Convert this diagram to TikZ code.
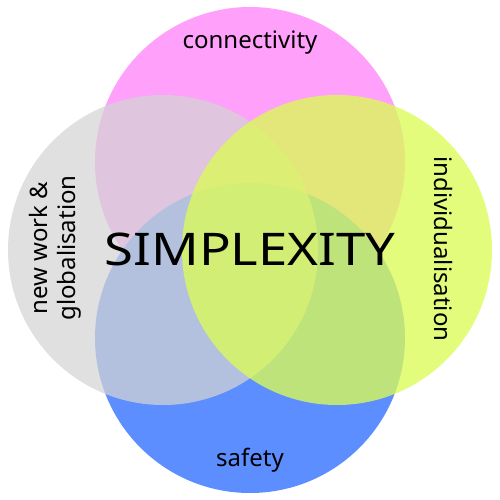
\documentclass[tikz,border=0pt]{standalone}
\usepackage{fontspec}
\setmainfont{Noto Sans}
\definecolor{cpink}{RGB}{255,160,250}
\definecolor{cgrey}{RGB}{212,212,212}
\definecolor{cyel}{RGB}{220,251,87}
\definecolor{cblue}{RGB}{92,142,255}
\tikzset{
  lab/.style={inner sep=0pt, text=black, font=\fontsize{24}{28}\selectfont},
  big/.style={inner sep=0pt, text=black, font=\fontsize{45}{54}\selectfont},
}
\begin{document}
\begin{tikzpicture}[x=1pt,y=-1pt]
\useasboundingbox (0,0) rectangle (500,500);
\coordinate (pc) at (250,162);
\coordinate (bc) at (250,338);
\coordinate (gc) at (163,250);
\coordinate (yc) at (337,250);
\fill[cpink] (pc) circle[radius=155pt];
\fill[cblue] (bc) circle[radius=155pt];
\fill[cgrey, fill opacity=0.73] (gc) circle[radius=155pt];
\fill[cyel, fill opacity=0.78] (yc) circle[radius=155pt];
\node[big] (title) at (250,249) {\scalebox{1.17}[1]{SIMPLEXITY}};
\node[lab] (conn) at (250,43) {connectivity};
\node[lab] (safe) at (250,460) {safety};
\node[lab, rotate=-90] (indiv) at (443,249) {individualisation};
\node[lab, rotate=90, align=center] (glob) at (55,248) {new work \&\\globalisation};
\end{tikzpicture}
\end{document}
